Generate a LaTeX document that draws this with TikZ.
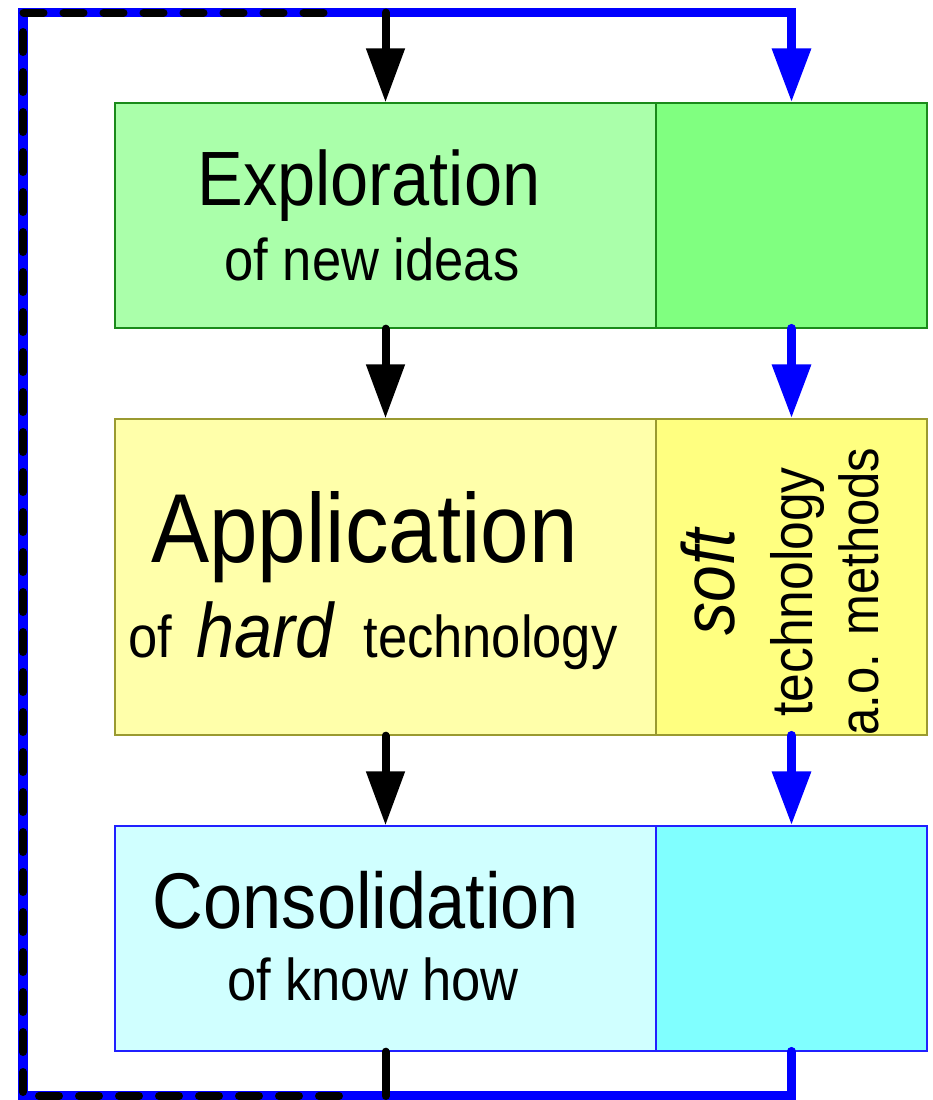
\documentclass[tikz,border=0pt]{standalone}
\usepackage{fontspec}
\setmainfont{Liberation Sans}[FakeStretch=0.89]
\usetikzlibrary{arrows.meta}
\definecolor{explA}{HTML}{AAFFAA}
\definecolor{explB}{HTML}{80FF80}
\definecolor{explD}{HTML}{1A8A1A}
\definecolor{applA}{HTML}{FFFFAA}
\definecolor{applB}{HTML}{FFFF80}
\definecolor{applD}{HTML}{9A9A30}
\definecolor{consA}{HTML}{D0FFFF}
\definecolor{consB}{HTML}{80FFFF}
\definecolor{consD}{HTML}{2020FF}
\newcommand\txtsize[1]{\fontsize{#1}{#1}\selectfont}
\begin{document}
\begin{tikzpicture}[x=1pt, y=-1pt, line join=miter, >={Triangle[width=37pt,length=54pt]}]
	\useasboundingbox (0,0) rectangle (932,1100);
	\tikzset{lbox/.style={draw, line width=1.3pt, inner sep=0pt, minimum width=541pt},
		rbox/.style={draw, line width=1.3pt, inner sep=0pt, minimum width=271pt},
		blkarrow/.style={line width=8pt, line cap=round, ->},
		bluarrow/.style={line width=9.5pt, line cap=round, blue, ->},
		dashloop/.style={line width=8pt, line cap=round, dash pattern=on 20pt off 20pt}}
	% the three stages
	\node[lbox, fill=explA, draw=explD, minimum height=225pt] (explL) at (385.5,215.5) {};
	\node[rbox, fill=explB, draw=explD, minimum height=225pt] (explR) at (791.5,215.5) {};
	\node[lbox, fill=applA, draw=applD, minimum height=316pt] (applL) at (385.5,577) {};
	\node[rbox, fill=applB, draw=applD, minimum height=316pt] (applR) at (791.5,577) {};
	\node[lbox, fill=consA, draw=consD, minimum height=225pt] (consL) at (385.5,938.5) {};
	\node[rbox, fill=consB, draw=consD, minimum height=225pt] (consR) at (791.5,938.5) {};
	% texts
	\node[anchor=base, font=\txtsize{77}] (explT) at (369,205) {Exploration};
	\node[anchor=base, font=\txtsize{59}] (explS) at (372,280) {of new ideas};
	\node[anchor=base, font=\txtsize{98}] (applT) at (364.5,562) {Application};
	\node[anchor=base, font=\txtsize{59}] (applS) at (373,657) {of\hspace{24pt}{\txtsize{77}\itshape hard}\hspace{30pt}technology};
	\node[anchor=base, font=\txtsize{79}] (consT) at (366,928) {Consolidation};
	\node[anchor=base, font=\txtsize{59}] (consS) at (373,1000) {of know how};
	\node[anchor=base, rotate=90, font=\txtsize{74}\itshape] (softT) at (734,582) {soft};
	\node[anchor=base, rotate=90, font=\txtsize{58}] (softS) at (812,592) {technology};
	\node[anchor=base, rotate=90, font=\txtsize{55}] (softM) at (878,591.5) {a.o. methods};
	% feedback loop
	\coordinate (cnrT) at (23,12.5);
	\coordinate (cnrB) at (23,1096);
	\coordinate (dashT) at (339,12.5);
	\coordinate (dashB) at (339,1096);
	\draw[bluarrow] (consR.south) |- (cnrB) -- (cnrT) -| (explR.north);
	\draw[line width=8pt, line cap=round] (consL.south) -- (consL.south |- cnrB);
	\draw[dashloop] (dashB) -- (cnrB) -- (cnrT) -- (dashT);
	\draw[blkarrow] (explL.north |- cnrT) -- (explL.north);
	% flow between stages
	\foreach \a/\b in {explL/applL, applL/consL} \draw[blkarrow] (\a.south) -- (\b.north);
	\foreach \a/\b in {explR/applR, applR/consR} \draw[bluarrow] (\a.south) -- (\b.north);
\end{tikzpicture}
\end{document}
